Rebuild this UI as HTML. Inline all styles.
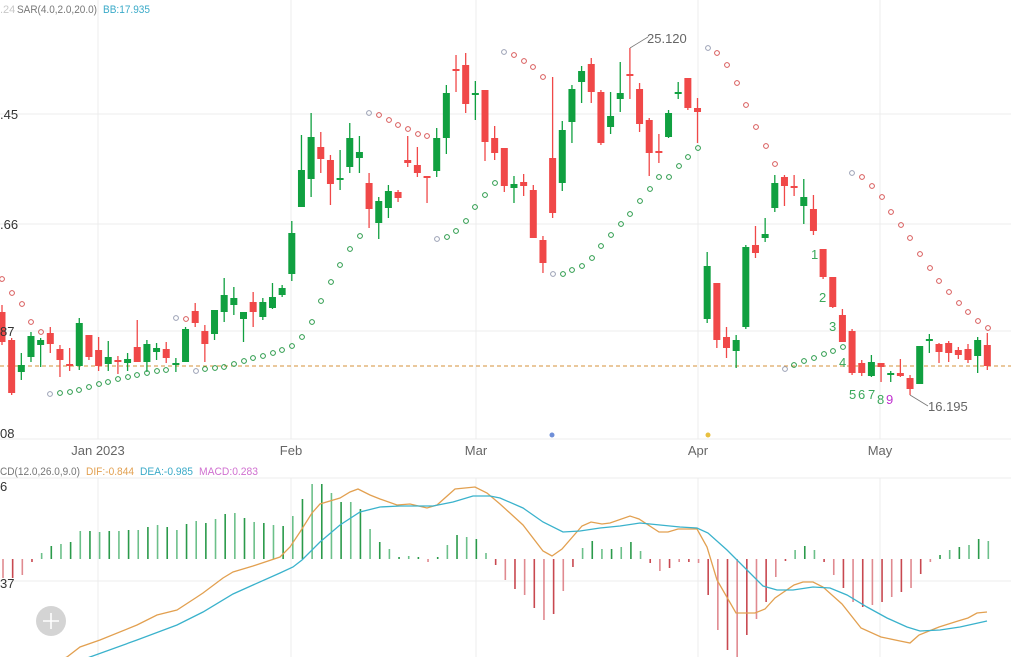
<!DOCTYPE html>
<html><head><meta charset="utf-8">
<style>
html,body{margin:0;padding:0;background:#fff;}
svg{display:block;font-family:"Liberation Sans",sans-serif;}
</style></head>
<body>
<svg id="s" width="1011" height="657" viewBox="0 0 1011 657" xmlns="http://www.w3.org/2000/svg">
<rect width="1011" height="657" fill="#fff"/>
<g stroke="#ececec" stroke-width="1">
<line x1="0" y1="114" x2="1011" y2="114"/>
<line x1="0" y1="224" x2="1011" y2="224"/>
<line x1="0" y1="331" x2="1011" y2="331"/>
<line x1="0" y1="439" x2="1011" y2="439"/>
<line x1="0" y1="478" x2="1011" y2="478"/>
<line x1="0" y1="581" x2="1011" y2="581"/>
<line x1="98" y1="0" x2="98" y2="439"/><line x1="98" y1="478" x2="98" y2="657"/>
<line x1="291" y1="0" x2="291" y2="439"/><line x1="291" y1="478" x2="291" y2="657"/>
<line x1="476" y1="0" x2="476" y2="439"/><line x1="476" y1="478" x2="476" y2="657"/>
<line x1="698" y1="0" x2="698" y2="439"/><line x1="698" y1="478" x2="698" y2="657"/>
<line x1="880" y1="0" x2="880" y2="439"/><line x1="880" y1="478" x2="880" y2="657"/>
</g>
<line x1="0" y1="366" x2="1011" y2="366" stroke="#d4903a" stroke-width="1" stroke-dasharray="4,3"/>
<g id="candles"></g>
<g id="sar" fill="none" stroke-width="1"></g>
<g id="hist"></g>
<polyline id="dif" fill="none" stroke="#e2a050" stroke-width="1.3"/>
<polyline id="dea" fill="none" stroke="#3ab2cc" stroke-width="1.3"/>
<g font-size="11">
<text x="0" y="13" fill="#c8c8c8">.24</text>
<text x="17" y="13" fill="#777" textLength="80" lengthAdjust="spacingAndGlyphs">SAR(4.0,2.0,20.0)</text>
<text x="103" y="13" fill="#3aaac8" textLength="47" lengthAdjust="spacingAndGlyphs">BB:17.935</text>
<text x="0" y="475" fill="#777" textLength="80" lengthAdjust="spacingAndGlyphs">CD(12.0,26.0,9.0)</text>
<text x="86" y="475" fill="#e2a050" textLength="48" lengthAdjust="spacingAndGlyphs">DIF:-0.844</text>
<text x="140" y="475" fill="#3aaac8" textLength="53" lengthAdjust="spacingAndGlyphs">DEA:-0.985</text>
<text x="199" y="475" fill="#d070d0" textLength="59" lengthAdjust="spacingAndGlyphs">MACD:0.283</text>
</g>
<g font-size="13" fill="#333">
<text x="0" y="119">.45</text>
<text x="0" y="229">.66</text>
<text x="0" y="336">87</text>
<text x="0" y="438">08</text>
<text x="0" y="491">6</text>
<text x="0" y="588">37</text>
</g>
<g font-size="13" fill="#666" text-anchor="middle">
<text x="98" y="455">Jan 2023</text>
<text x="291" y="455">Feb</text>
<text x="476" y="455">Mar</text>
<text x="698" y="455">Apr</text>
<text x="880" y="455">May</text>
</g>
<circle cx="552" cy="435" r="2.5" fill="#6f8fd8"/>
<circle cx="708" cy="435" r="2.5" fill="#e8c040"/>
<polyline points="630,48 648,37" fill="none" stroke="#777" stroke-width="0.8"/>
<text x="647" y="43" font-size="13" fill="#666">25.120</text>
<polyline points="910,395 928,406" fill="none" stroke="#777" stroke-width="0.8"/>
<text x="928" y="411" font-size="13" fill="#666">16.195</text>
<g font-size="13" fill="#3aa85a">
<text x="811" y="259">1</text><text x="819" y="302">2</text><text x="829" y="331">3</text><text x="839" y="367">4</text>
<text x="849" y="399">5</text><text x="858" y="399">6</text><text x="868" y="399">7</text><text x="877" y="404">8</text>
</g>
<text x="886" y="404" font-size="13" fill="#c030d0">9</text>
<circle cx="51" cy="621" r="15" fill="#d4d4d4"/>
<path d="M51 613v16M43 621h16" stroke="#fff" stroke-width="1.6"/>
</svg>
<script>
var NS="http://www.w3.org/2000/svg";
function el(p,t,a){var e=document.createElementNS(NS,t);for(var k in a)e.setAttribute(k,a[k]);p.appendChild(e);return e;}
function X(i){return 2+9.66*i;}
var C=[[312,342,305,345],[340,393,338,395],[372,365,353,380],[357,336,332,362],[345,340,338,367],[333,344,327,353],[349,360,345,377],[364,366,348,371],[366,323,318,370],[335,357,335,360],
[350,366,337,371],[364,357,341,371],[360,361,356,374],[363,359,353,371],[347,362,320,362],[362,344,340,372],[352,348,343,360],[349,358,342,363],[365,363,358,372],[362,329,327,362],
[311,323,303,327],[331,344,325,362],[334,310,310,340],[312,295,278,322],[305,298,287,315],[319,312,312,342],[302,312,292,327],[317,302,298,320],[308,297,283,309],[295,288,285,297],
[274,233,221,281],[207,170,135,207],[179,137,113,197],[147,159,132,173],[160,184,155,205],[179,178,150,190],[167,138,123,173],[158,152,136,173],[183,209,173,228],[223,201,197,239],
[208,191,185,218],[192,198,190,202],[160,163,136,167],[165,173,147,177],[176,177,176,203],[171,138,128,177],[138,93,85,154],[69,71,55,92],[65,104,53,113],[95,93,81,120],
[90,142,90,161],[138,153,126,160],[148,186,148,192],[188,184,176,203],[182,186,174,196],[190,238,185,238],[240,263,236,273],[158,213,77,218],[183,130,121,191],[122,89,85,143],
[82,71,66,103],[64,92,58,103],[92,143,90,145],[127,116,92,134],[99,93,62,112],[74,76,48,99],[89,124,83,132],[120,153,118,176],[151,152,134,163],[137,113,110,138],
[94,92,82,99],[78,108,78,110],[108,112,98,143],[319,266,252,323],[283,340,283,348],[337,348,327,358],[351,340,335,368],[327,247,245,329],[245,253,226,258],[238,234,218,242],
[208,183,175,212],[177,186,175,206],[186,187,175,196],[206,197,179,224],[209,231,195,235],[249,277,249,279],[277,307,277,308],[315,342,309,342],[331,373,329,375],[363,373,360,376],
[376,362,355,377],[363,367,363,382],[375,373,371,382],[373,376,359,377],[378,389,375,395],[384,346,346,384],[341,339,334,353],[344,352,343,363],[343,353,341,362],[350,355,347,359],
[349,360,344,363],[356,340,337,373],[345,366,333,370]];
var g=document.getElementById("candles");
C.forEach(function(c,i){var x=X(i);var col=(c[1]<=c[0])?"#10a040":"#f04848";
el(g,"line",{x1:x,x2:x,y1:c[2],y2:c[3],stroke:col,"stroke-width":1.3});
var t=Math.min(c[0],c[1]),h=Math.max(Math.abs(c[1]-c[0]),2);el(g,"rect",{x:x-3.5,y:t,width:7,height:h,fill:col});});
var S=[["r",[[2,279],[12,293],[22,304],[31,322],[41,332]],false],
["g",[[50,394],[60,393],[70,392],[79,390],[89,387],[99,384],[108,382],[118,379],[128,377],[137,375],[147,373],[157,371],[166,370]],true],
["r",[[176,318],[186,319]],true],
["g",[[196,371],[205,369],[215,368],[224,367],[234,364],[244,361],[253,358],[263,356],[273,353],[282,350],[292,346],[302,337],[312,322],[321,301],[331,282],[340,265],[350,249],[360,236]],true],
["r",[[369,113],[379,115],[389,120],[398,125],[408,129],[418,134],[427,136]],true],
["g",[[437,239],[447,237],[456,231],[466,221],[475,207],[485,195],[495,183]],true],
["r",[[504,52],[514,55],[524,61],[533,67],[543,77]],true],
["g",[[553,274],[563,274],[572,270],[582,266],[592,258],[601,246],[611,235],[621,224],[630,214],[640,201],[650,189],[659,177],[669,177],[679,166],[688,157],[698,148]],true],
["r",[[708,48],[717,53],[727,65],[737,83],[746,105],[756,127],[766,146],[775,164]],true],
["g",[[785,369],[794,365],[804,361],[814,358],[824,354],[833,351],[843,347]],true],
["r",[[852,173],[862,177],[872,186],[882,197],[891,212],[901,225],[910,238],[920,254],[930,268],[939,281],[949,292],[959,303],[968,312],[978,321],[988,328]],true]];
var sg=document.getElementById("sar");
S.forEach(function(s){s[1].forEach(function(p,k){var col=(k==0&&s[2])?"#9aa0b4":(s[0]=="r"?"#d85a5a":"#2a9a4a");el(sg,"circle",{cx:p[0],cy:p[1],r:2.4,stroke:col});});});
var H=[578,578,575,562,553,546,544,542,531,531,532,531,531,530,530,527,525,527,530,524,521,523,519,514,513,518,522,523,525,526,516,499,484,484,493,502,502,509,529,542,549,557,556,557,562,557,545,535,537,539,553,565,
580,589,595,608,620,614,591,567,548,541,549,549,547,542,551,563,571,568,562,562,563,595,630,650,657,635,619,602,577,561,550,546,550,562,575,588,602,607,605,602,597,592,588,574,562,555,550,547,545,539,541];
var hg=document.getElementById("hist");var Z=559;
H.forEach(function(y,i){var x=X(i)+1;var pos=y<Z;var col=pos?(i%2?"#2a9a4a":"#6cc08a"):(i%2?"#c84850":"#e08a90");
el(hg,"line",{x1:x,x2:x,y1:Z,y2:y,stroke:col,"stroke-width":1.6});});
document.getElementById("dif").setAttribute("points","60,660 67,657 80,647 100,640 137,625 157,615 177,610 197,597 203,593 223,578 233,572 253,566 280,557 290,547 300,532 312,513 320,504 340,498 350,492 358,489 370,495 380,499 397,505 410,504 427,508 437,505 455,489 475,487 487,493 500,504 523,525 543,551 552,556 562,549 582,526 591,522 602,524 610,523 630,516 639,519 659,532 668,532 678,529 697,529 707,547 717,580 736,613 755,613 765,609 775,598 794,585 803,582 813,582 823,587 842,604 861,628 881,637 900,641 910,643 919,635 939,627 958,621 968,618 977,613 987,612");
document.getElementById("dea").setAttribute("points","82,660 90,657 137,640 177,625 203,612 233,594 253,585 280,573 293,567 302,560 320,542 340,525 360,512 380,507 400,506 433,506 453,502 473,496 490,496 500,498 523,508 543,522 563,532 580,531 600,528 620,526 640,523 660,525 680,527 697,528 708,533 727,550 747,570 763,586 777,590 793,590 813,587 830,588 847,595 867,607 887,618 907,627 920,631 940,630 960,627 987,621");
</script>
</body></html>
